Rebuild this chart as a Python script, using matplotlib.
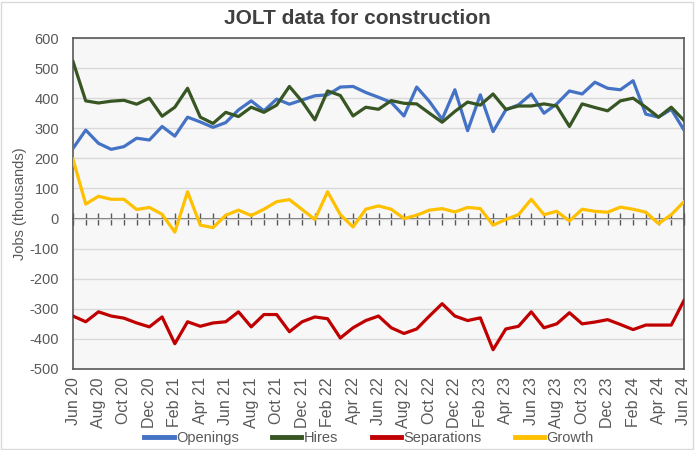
import numpy as np
import matplotlib
matplotlib.use('Agg')
from matplotlib import pyplot as plt
from matplotlib.patches import Rectangle

months = ['Jun 20', 'Jul 20', 'Aug 20', 'Sep 20', 'Oct 20', 'Nov 20', 'Dec 20',
          'Jan 21', 'Feb 21', 'Mar 21', 'Apr 21', 'May 21', 'Jun 21', 'Jul 21',
          'Aug 21', 'Sep 21', 'Oct 21', 'Nov 21', 'Dec 21', 'Jan 22', 'Feb 22',
          'Mar 22', 'Apr 22', 'May 22', 'Jun 22', 'Jul 22', 'Aug 22', 'Sep 22',
          'Oct 22', 'Nov 22', 'Dec 22', 'Jan 23', 'Feb 23', 'Mar 23', 'Apr 23',
          'May 23', 'Jun 23', 'Jul 23', 'Aug 23', 'Sep 23', 'Oct 23', 'Nov 23',
          'Dec 23', 'Jan 24', 'Feb 24', 'Mar 24', 'Apr 24', 'May 24', 'Jun 24']

openings = [233, 294, 250, 230, 239, 267, 261, 306, 274, 337, 321, 303,
            319, 361, 391, 358, 397, 380, 394, 408, 411, 437, 439, 419,
            403, 386, 341, 437, 389, 330, 428, 292, 411, 289, 361, 378,
            414, 350, 381, 424, 414, 453, 433, 428, 458, 347, 337, 363, 294]
hires = [522, 391, 384, 390, 393, 380, 400, 340, 370, 433, 337, 316,
         353, 339, 370, 353, 377, 439, 389, 328, 424, 409, 341, 370,
         363, 392, 383, 381, 350, 320, 356, 387, 377, 414, 363, 374,
         374, 381, 374, 306, 381, 369, 358, 391, 400, 370, 337, 370, 326]
separations = [-324, -343, -310, -324, -331, -347, -360, -327, -416, -343, -358, -347,
               -343, -310, -360, -319, -319, -376, -343, -327, -333, -397, -363, -339,
               -324, -363, -382, -367, -324, -283, -324, -339, -330, -436, -367, -358,
               -310, -363, -350, -313, -350, -344, -336, -352, -369, -354, -354, -354, -272]
growth = [197, 48, 74, 64, 64, 30, 37, 14, -45, 89, -22, -30,
          11, 28, 10, 31, 56, 63, 30, -3, 89, 13, -28, 31,
          42, 31, 0, 11, 28, 33, 22, 37, 33, -22, -3, 13,
          64, 13, 24, -8, 31, 24, 21, 38, 31, 21, -17, 13, 56]

plt.rcParams['font.family'] = ['Liberation Sans', 'DejaVu Sans']
plt.rcParams['axes.unicode_minus'] = False
grey = '#595959'

fig = plt.figure(figsize=(6.96, 4.5), dpi=100)
ax = fig.add_axes([73/696, 1 - 369/450, 611/696, 331/450])
fig.patches.append(Rectangle((0.002, 0.002), 0.994, 0.994, transform=fig.transFigure,
                             fill=False, edgecolor='#d9d9d9', lw=1))

x = np.arange(len(months))
ax.set_facecolor('#f7f7f7')
ax.plot(x, openings, color='#4472C4', lw=2.3, label='Openings', zorder=3)
ax.plot(x, hires, color='#375623', lw=2.3, label='Hires', zorder=3)
ax.plot(x, separations, color='#C00000', lw=2.3, label='Separations', zorder=3)
ax.plot(x, growth, color='#FFC000', lw=2.3, label='Growth', zorder=3)

ax.set_xlim(0, len(months) - 1)
ax.set_ylim(-500, 600)
ax.set_yticks(range(-500, 601, 100))
ax.grid(axis='y', color='#d9d9d9', lw=1)
ax.set_axisbelow(True)
ax.tick_params(axis='y', length=0, labelsize=10.5, labelcolor=grey, pad=10)
ax.set_xticks(x[::2])
ax.set_xticklabels(months[::2], rotation=90, fontsize=11.5, color=grey)
ax.tick_params(axis='x', length=0, pad=6)
for s in ax.spines.values():
    s.set_color('#595959')
    s.set_linewidth(1.2)

# zero axis with crossing ticks
zero = ax.secondary_xaxis(0, transform=ax.transData)
zero.set_xticks(x)
zero.tick_params(direction='inout', length=9, width=1, color=grey, labelbottom=False)
zero.spines['bottom'].set_color(grey)
zero.spines['bottom'].set_linewidth(1.2)

ax.set_ylabel('Jobs (thousands)', fontsize=10.5, color=grey, labelpad=2)
fig.text(0.513, 0.96, 'JOLT data for construction', ha='center', va='center',
         fontsize=15, fontweight='bold', color='#404040')

fig.legend(loc='lower center', ncol=4, frameon=False, bbox_to_anchor=(0.53, -0.018),
           fontsize=10.5, handlelength=2.0, handletextpad=0.15, columnspacing=2.3,
           labelcolor=grey)
for h in fig.legends[0].legend_handles:
    h.set_linewidth(3.5)

fig.savefig('out.png', dpi=100)
